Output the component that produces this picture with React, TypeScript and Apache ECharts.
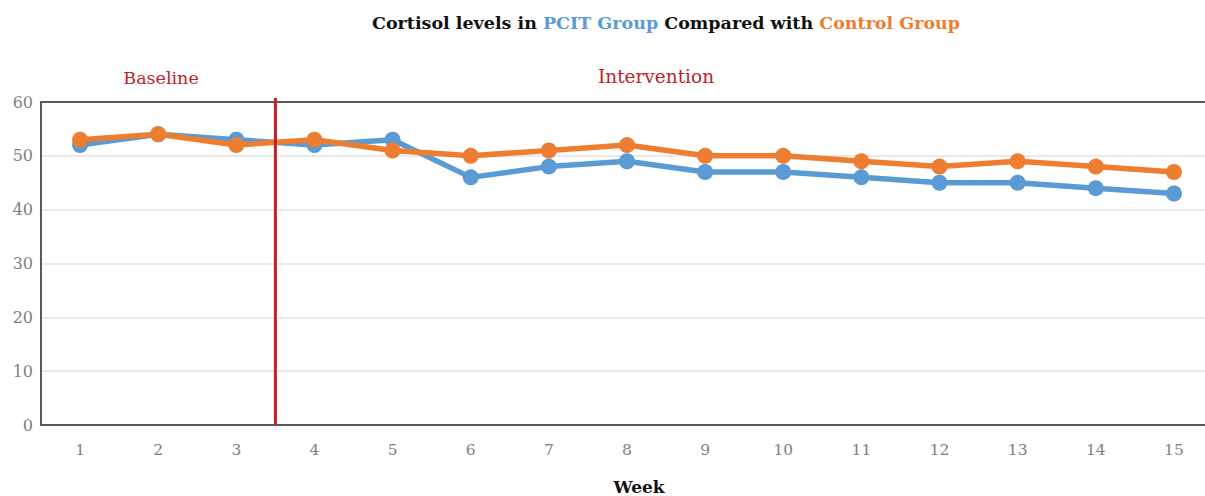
import React, { useEffect, useRef } from "react";
import * as echarts from "echarts";

const weeks = ["1", "2", "3", "4", "5", "6", "7", "8", "9", "10", "11", "12", "13", "14", "15"];
const pcitGroup = [52, 54, 53, 52, 53, 46, 48, 49, 47, 47, 46, 45, 45, 44, 43];
const controlGroup = [53, 54, 52, 53, 51, 50, 51, 52, 50, 50, 49, 48, 49, 48, 47];
const yTicks = { min: 0, max: 60, interval: 10 };
const phaseLabels = ["Baseline", "Intervention"];

const BLUE = "#5B9BD5";
const ORANGE = "#ED7D31";
const RED = "#C0222B";
const FRAME = "#595959";
const SERIF = "'DejaVu Serif', 'Liberation Serif', serif";

export default function App() {
  const ref = useRef<HTMLDivElement>(null);
  useEffect(() => {
    if (!ref.current) return;
    const chart = echarts.init(ref.current, null, { renderer: "svg" });
    chart.setOption({
      animation: false,
      backgroundColor: "#ffffff",
      title: {
        left: 367,
        top: 9,
        text: "{a|Cortisol levels in }{b|PCIT Group}{a| Compared with }{c|Control Group}",
        textStyle: {
          rich: {
            a: { fontFamily: SERIF, fontWeight: "bold", fontSize: 17.5, color: "#111111" },
            b: { fontFamily: SERIF, fontWeight: "bold", fontSize: 17.5, color: BLUE },
            c: { fontFamily: SERIF, fontWeight: "bold", fontSize: 17.5, color: ORANGE },
          },
        },
      },
      grid: {
        left: 41,
        right: 0,
        top: 102,
        bottom: 71,
        show: false,
      },
      xAxis: [
        {
          type: "category",
          data: weeks,
          boundaryGap: true,
          axisLine: { show: true, lineStyle: { color: FRAME, width: 2 } },
          axisTick: { show: false },
          axisLabel: { color: "#7f7f7f", fontFamily: SERIF, fontSize: 15.5, margin: 17 },
          splitLine: { show: false },
          z: 5,
        },
        {
          type: "category",
          position: "top",
          data: weeks,
          boundaryGap: true,
          axisLine: { show: true, lineStyle: { color: FRAME, width: 2 } },
          axisTick: { show: false },
          axisLabel: { show: false },
          splitLine: { show: false },
          z: 5,
        },
      ],
      yAxis: {
        type: "value",
        min: yTicks.min,
        max: yTicks.max,
        interval: yTicks.interval,
        axisLine: { show: true, lineStyle: { color: FRAME, width: 2 } },
        axisTick: { show: false },
        axisLabel: { color: "#7f7f7f", fontFamily: SERIF, fontSize: 16, margin: 8 },
        splitLine: { show: true, lineStyle: { color: "#e3e3e3", width: 1.5 } },
      },
      series: [
        {
          name: "PCIT Group",
          type: "line",
          data: pcitGroup,
          symbol: "circle",
          symbolSize: 16,
          lineStyle: { color: BLUE, width: 5.5 },
          itemStyle: { color: BLUE },
          z: 2,
        },
        {
          name: "Control Group",
          type: "line",
          data: controlGroup,
          symbol: "circle",
          symbolSize: 16,
          lineStyle: { color: ORANGE, width: 5.5 },
          itemStyle: { color: ORANGE },
          z: 3,
        },
      ],
    });

    const x3 = chart.convertToPixel({ xAxisIndex: 0 }, 2) as number;
    const x4 = chart.convertToPixel({ xAxisIndex: 0 }, 3) as number;
    const xSplit = (x3 + x4) / 2;
    const yTop = chart.convertToPixel({ yAxisIndex: 0 }, yTicks.max) as number;
    const yBottom = chart.convertToPixel({ yAxisIndex: 0 }, yTicks.min) as number;

    chart.setOption({
      graphic: [
        {
          type: "line",
          shape: { x1: xSplit, y1: yTop - 4, x2: xSplit, y2: yBottom },
          style: { stroke: RED, lineWidth: 3 },
          z: 10,
        },
        {
          type: "text",
          x: 161,
          y: 78,
          style: {
            text: phaseLabels[0],
            fill: RED,
            font: `17.5px ${SERIF}`,
            textAlign: "center",
            textVerticalAlign: "middle",
          },
        },
        {
          type: "text",
          x: 656,
          y: 76,
          style: {
            text: phaseLabels[1],
            fill: RED,
            font: `18.5px ${SERIF}`,
            textAlign: "center",
            textVerticalAlign: "middle",
          },
        },
        {
          type: "text",
          x: 639,
          y: 487,
          style: {
            text: "Week",
            fill: "#111111",
            font: `bold 17px ${SERIF}`,
            textAlign: "center",
            textVerticalAlign: "middle",
          },
        },
      ],
    });

    return () => chart.dispose();
  }, []);

  return (
    <div style={{ position: "absolute", left: 0, top: 0, width: 1205, height: 496, overflow: "hidden" }}>
      <div ref={ref} style={{ position: "absolute", left: 0, top: 0, width: 1213, height: 496 }} />
    </div>
  );
}
